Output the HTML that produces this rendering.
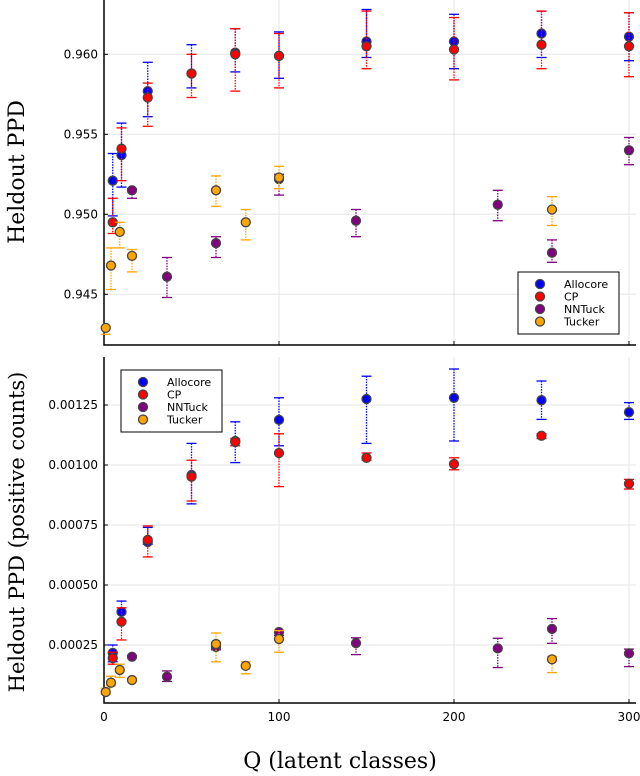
<!DOCTYPE html>
<html><head><meta charset="utf-8"><style>
html,body{margin:0;padding:0;background:#fff;}
svg{display:block;}
.tick{font-family:"DejaVu Sans","Liberation Sans",sans-serif;font-size:12px;fill:#000;}
.ser{font-family:"DejaVu Serif","Liberation Serif",serif;fill:#000;}
.leg{font-family:"DejaVu Sans","Liberation Sans",sans-serif;font-size:11px;fill:#000;}
</style></head><body>
<svg id="chart" width="640" height="776" viewBox="0 0 640 776" xmlns="http://www.w3.org/2000/svg"></svg>
<script>
// ---- data ----
const seriesNames = ["Allocore","CP","NNTuck","Tucker"];
const seriesColors = ["#0000ff","#ff0000","#800080","#ffa500"];
// top panel (Heldout PPD)
const topAllocoreQ = [5,10,25,50,75,100,150,200,250,300];
const topAllocoreV = [0.9521,0.9537,0.9577,0.9588,0.9601,0.9599,0.9608,0.9608,0.9613,0.9611];
const topAllocoreHi = [0.9538,0.9557,0.9595,0.9606,0.9616,0.9614,0.9628,0.9625,0.9627,0.9626];
const topAllocoreLo = [0.9499,0.9517,0.9561,0.9579,0.9589,0.9585,0.9598,0.9591,0.9598,0.9596];
const topCPQ = [5,10,25,50,75,100,150,200,250,300];
const topCPV = [0.9495,0.9541,0.9573,0.9588,0.9600,0.9599,0.9605,0.9603,0.9606,0.9605];
const topCPHi = [0.9510,0.9554,0.9582,0.9600,0.9616,0.9613,0.9627,0.9623,0.9627,0.9626];
const topCPLo = [0.9488,0.9521,0.9555,0.9573,0.9577,0.9579,0.9591,0.9584,0.9591,0.9586];
const topNNQ = [16,36,64,100,144,225,256,300];
const topNNV = [0.9515,0.9461,0.9482,0.9522,0.9496,0.9506,0.9476,0.9540];
const topNNHi = [0.9516,0.9473,0.9486,0.9525,0.9503,0.9515,0.9484,0.9548];
const topNNLo = [0.9510,0.9448,0.9473,0.9512,0.9486,0.9496,0.9470,0.9531];
const topTuckerQ = [1,4,9,16,64,81,100,256];
const topTuckerV = [0.9429,0.9468,0.9489,0.9474,0.9515,0.9495,0.9523,0.9503];
const topTuckerHi = [0.9430,0.9479,0.9495,0.9478,0.9524,0.9503,0.9530,0.9511];
const topTuckerLo = [0.9425,0.9453,0.9479,0.9464,0.9505,0.9484,0.9516,0.9493];
// bottom panel (positive counts)
const botAllocoreQ = [5,10,25,50,75,100,150,200,250,300];
const botAllocoreV = [0.000217,0.000388,0.000679,0.000958,0.00110,0.001188,0.001275,0.00128,0.00127,0.00122];
const botAllocoreHi = [0.00025,0.000433,0.00074,0.00109,0.00118,0.00128,0.00137,0.00140,0.00135,0.00126];
const botAllocoreLo = [0.00018,0.00035,0.00067,0.000838,0.00101,0.00108,0.00109,0.00110,0.00119,0.00119];
const botCPQ = [5,10,25,50,75,100,150,200,250,300];
const botCPV = [0.000196,0.000347,0.000688,0.000951,0.001096,0.00105,0.00103,0.001004,0.001122,0.000922];
const botCPHi = [0.00022,0.000405,0.000746,0.00102,0.00111,0.00113,0.00105,0.00103,0.00113,0.00094];
const botCPLo = [0.00017,0.000271,0.000617,0.00085,0.00108,0.00091,0.00102,0.00098,0.00111,0.00090];
const botNNQ = [16,36,64,100,144,225,256,300];
const botNNV = [0.000201,0.000118,0.000242,0.000304,0.000258,0.000236,0.000317,0.000215];
const botNNHi = [0.000205,0.000142,0.00026,0.00031,0.00028,0.000278,0.00036,0.000233];
const botNNLo = [0.000197,0.000098,0.00023,0.00029,0.00021,0.000156,0.000257,0.00016];
const botTuckerQ = [1,4,9,16,64,81,100,256];
const botTuckerV = [0.000054,0.000093,0.000146,0.000104,0.000254,0.000163,0.000275,0.00019];
const botTuckerHi = [0.00007,0.00012,0.00017,0.000112,0.00030,0.00018,0.00031,0.000203];
const botTuckerLo = [0.000045,0.00008,0.000115,0.0001,0.00018,0.00013,0.00022,0.000135];
const xTicks = [0,100,200,300];
const topYTicks = [0.945,0.950,0.955,0.960];
const topYLabels = ["0.945","0.950","0.955","0.960"];
const botYTicks = [0.00025,0.0005,0.00075,0.001,0.00125];
const botYLabels = ["0.00025","0.00050","0.00075","0.00100","0.00125"];

// ---- layout ----
const NS="http://www.w3.org/2000/svg";
const svg=document.getElementById('chart');
function mk(tag,attrs,parent){const e=document.createElementNS(NS,tag);for(const k in attrs)e.setAttribute(k,attrs[k]);(parent||svg).appendChild(e);return e;}
const X0=104, XR=636;
function xs(q){return X0+q*1.75;}
function topY(v){return 54.3-(v-0.960)*16000;}
function botY(v){return 705-v/0.00025*60;}

function panel(name,top,bottom,yfun,yt,yl,showX){
  const g=mk('g',{});
  
  
  xTicks.forEach(t=>{const l=mk('line',{x1:xs(t),x2:xs(t),y1:top,y2:bottom,stroke:'#e6e6e6','stroke-width':1},g);
    });
  yt.forEach((t,i)=>{const y=yfun(t);
    const l=mk('line',{x1:X0,x2:XR,y1:y,y2:y,stroke:'#e6e6e6','stroke-width':1},g);
    
    mk('line',{x1:X0,x2:X0+4,y1:y,y2:y,stroke:'#000','stroke-width':1},g);
    const tx=mk('text',{x:X0-6,y:y+4,'text-anchor':'end',class:'tick'},g);tx.textContent=yl[i];
    });
  xTicks.forEach(t=>{mk('line',{x1:xs(t),x2:xs(t),y1:bottom,y2:bottom-4,stroke:'#000','stroke-width':1},g);
    if(showX){const tx=mk('text',{x:xs(t),y:bottom+18,'text-anchor':'middle',class:'tick'},g);tx.textContent=String(t);
      }});
  const ax=mk('path',{d:`M${X0} ${top} L${X0} ${bottom} L${XR} ${bottom}`,fill:'none',stroke:'#000','stroke-width':1.5},g);
  
  return g;
}
function series(parent,yfun,Q,V,Hi,Lo,color,nm){
  const g=mk('g',{},parent);
  
  
  Q.forEach((q,i)=>{const x=xs(q),y1=yfun(Hi[i]),y2=yfun(Lo[i]);
    mk('line',{x1:x,x2:x,y1:y1,y2:y2,stroke:color,'stroke-width':1.3,'stroke-dasharray':'1.5,1.2'},g);
    mk('line',{x1:x-5,x2:x+5,y1:y1,y2:y1,stroke:color,'stroke-width':1.3},g);
    mk('line',{x1:x-5,x2:x+5,y1:y2,y2:y2,stroke:color,'stroke-width':1.3},g);});
  Q.forEach((q,i)=>{const c=mk('circle',{cx:xs(q),cy:yfun(V[i]),r:4.5,fill:color,stroke:'#444','stroke-width':1.3},g);
    });
}
function legend(x,y,w,h){
  const g=mk('g',{});
  
  
  mk('rect',{x:x,y:y,width:w,height:h,fill:'#fff',stroke:'#000','stroke-width':1},g);
  seriesNames.forEach((n,i)=>{const yy=y+12+i*12.5;
    const e=mk('g',{},g);
    
    mk('circle',{cx:x+22,cy:yy,r:4.5,fill:seriesColors[i],stroke:'#444','stroke-width':1.3},e);
    const t=mk('text',{x:x+46,y:yy+4,class:'leg'},e);t.textContent=n;});
}

const p1=panel('top-panel',0,345,topY,topYTicks,topYLabels,false);
series(p1,topY,topAllocoreQ,topAllocoreV,topAllocoreHi,topAllocoreLo,seriesColors[0],'Allocore');
series(p1,topY,topCPQ,topCPV,topCPHi,topCPLo,seriesColors[1],'CP');
series(p1,topY,topNNQ,topNNV,topNNHi,topNNLo,seriesColors[2],'NNTuck');
series(p1,topY,topTuckerQ,topTuckerV,topTuckerHi,topTuckerLo,seriesColors[3],'Tucker');
legend(518,272,101,62);

const p2=panel('bottom-panel',357,703,botY,botYTicks,botYLabels,true);
series(p2,botY,botAllocoreQ,botAllocoreV,botAllocoreHi,botAllocoreLo,seriesColors[0],'Allocore');
series(p2,botY,botCPQ,botCPV,botCPHi,botCPLo,seriesColors[1],'CP');
series(p2,botY,botNNQ,botNNV,botNNHi,botNNLo,seriesColors[2],'NNTuck');
series(p2,botY,botTuckerQ,botTuckerV,botTuckerHi,botTuckerLo,seriesColors[3],'Tucker');
legend(121,370,101,62);

let t=mk('text',{x:0,y:0,'text-anchor':'middle',class:'ser','font-size':22,transform:'translate(24,172) rotate(-90)'});
t.textContent='Heldout PPD';
t=mk('text',{x:0,y:0,'text-anchor':'middle',class:'ser','font-size':21,transform:'translate(24,532) rotate(-90)'});
t.textContent='Heldout PPD (positive counts)';
t=mk('text',{x:340,y:768,'text-anchor':'middle',class:'ser','font-size':22});
t.textContent='Q (latent classes)';
</script>
</body></html>
